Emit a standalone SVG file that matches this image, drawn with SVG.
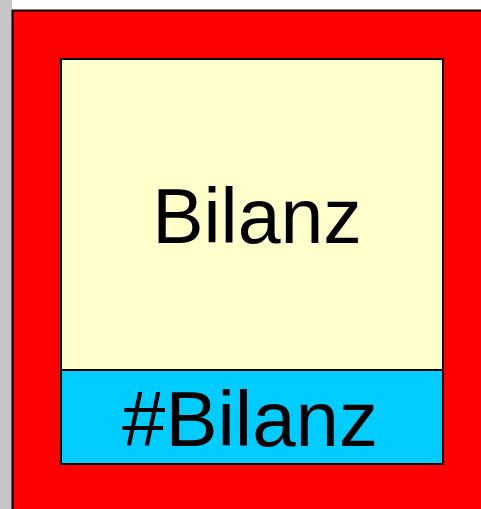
<svg xmlns="http://www.w3.org/2000/svg" width="481" height="509" viewBox="0 0 481 509">
<style>
.t{font-family:"Liberation Sans",Arial,sans-serif;fill:#000;text-anchor:middle}
</style>
<rect x="0" y="0" width="481" height="509" fill="#ffffff"/>
<rect x="0" y="0" width="12" height="509" fill="#c6c6c6"/>
<g id="outer">
<rect x="12.5" y="10.5" width="480" height="510" fill="#ff0000" stroke="#000" stroke-width="2"/>
</g>
<g id="bilanz">
<rect x="61" y="59" width="382" height="311" fill="#ffffcc" stroke="#000" stroke-width="2"/>
<text class="t" x="257" y="243" font-size="77">Bilanz</text>
</g>
<g id="bilanz-id">
<rect x="61" y="370" width="382" height="94" fill="#00ccff" stroke="#000" stroke-width="2"/>
<text class="t" x="250" y="446" font-size="78">#Bilanz</text>
</g>
<g id="connectors"/>
</svg>
